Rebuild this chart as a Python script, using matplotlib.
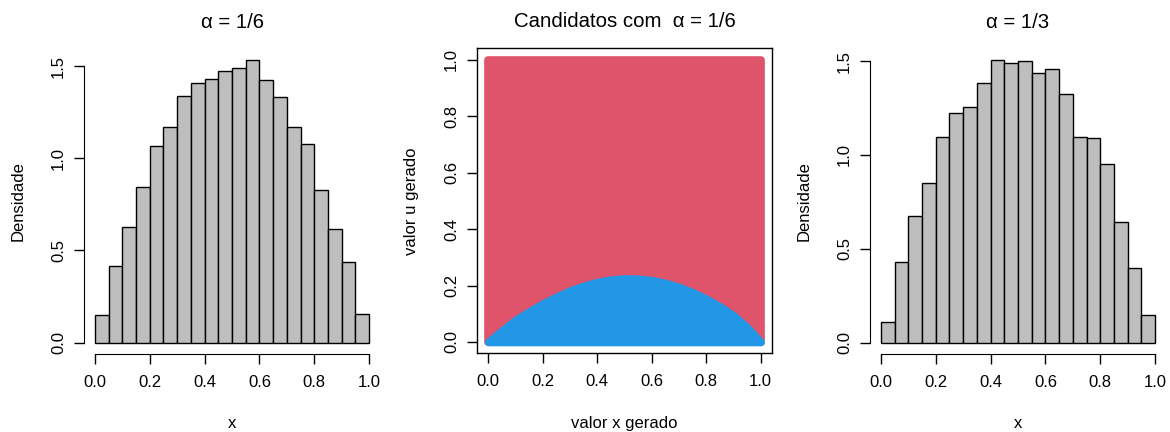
import numpy as np
import matplotlib.pyplot as plt

plt.rcParams['font.family'] = ['Liberation Sans', 'DejaVu Sans']
plt.rcParams['font.size'] = 12

# histogram bins (width 0.05 on [0, 1])
bin_left = np.arange(20) * 0.05
dens_a16 = [0.148, 0.418, 0.627, 0.844, 1.065, 1.170, 1.339, 1.410, 1.431, 1.475,
            1.491, 1.534, 1.426, 1.334, 1.172, 1.080, 0.829, 0.618, 0.440, 0.153]
dens_a13 = [0.108, 0.430, 0.675, 0.852, 1.095, 1.223, 1.255, 1.383, 1.507, 1.489,
            1.500, 1.434, 1.457, 1.324, 1.094, 1.090, 0.953, 0.643, 0.398, 0.147]

# accepted region boundary for the candidates (x, u)
x_bound = [0.00, 0.05, 0.10, 0.15, 0.20, 0.25, 0.30, 0.35, 0.40, 0.45, 0.50,
           0.55, 0.60, 0.65, 0.70, 0.75, 0.80, 0.85, 0.90, 0.95, 1.00]
u_bound = [0.000, 0.040, 0.078, 0.108, 0.136, 0.160, 0.182, 0.199, 0.212, 0.221, 0.225,
           0.224, 0.219, 0.209, 0.195, 0.176, 0.153, 0.126, 0.094, 0.052, 0.000]

RED = '#DF536B'
BLUE = '#2297E6'
GRAY = '#BEBEBE'

xticks = [0.0, 0.2, 0.4, 0.6, 0.8, 1.0]
xtick_labels = ['0.0', '0.2', '0.4', '0.6', '0.8', '1.0']

fig = plt.figure(figsize=(11.7, 4.32), dpi=100)


def style_axis(ax):
    ax.tick_params(axis='both', direction='out', length=7, width=1.0, colors='black')
    ax.tick_params(axis='x', pad=8)
    ax.tick_params(axis='y', pad=6)
    ax.set_xticks(xticks)
    ax.set_xticklabels(xtick_labels)


def histogram(ax, dens, title):
    ax.bar(bin_left, dens, width=0.05, align='edge', color=GRAY,
           edgecolor='black', linewidth=1.0)
    ymax = max(dens)
    ax.set_xlim(-0.04, 1.04)
    ax.set_ylim(-0.04 * ymax, 1.04 * ymax)
    for s in ['top', 'right']:
        ax.spines[s].set_visible(False)
    ax.spines['left'].set_bounds(0, 1.5)
    ax.spines['bottom'].set_bounds(0, 1)
    style_axis(ax)
    ax.set_yticks([0, 0.5, 1.0, 1.5])
    ax.set_yticklabels(['0.0', '0.5', '1.0', '1.5'], rotation=90, va='center')
    ax.set_xlabel('x', labelpad=19)
    ax.set_ylabel('Densidade', labelpad=18)
    ax.set_title(title, fontsize=14.7, pad=15)


ax1 = fig.add_axes([0.0718, 0.1806, 0.2530, 0.7072])
histogram(ax1, dens_a16, 'α = 1/6')

ax3 = fig.add_axes([0.7436, 0.1806, 0.2530, 0.7072])
histogram(ax3, dens_a13, 'α = 1/3')

# candidates: rejected (red) over the unit square, accepted (blue) under the boundary
ax2 = fig.add_axes([0.4079, 0.1822, 0.2516, 0.7060])
ax2.fill_between([0, 1], [0, 0], [1, 1], color=RED, edgecolor=RED,
                 linewidth=5.5, joinstyle='round')
ax2.fill_between(x_bound, 0, u_bound, color=BLUE, edgecolor=BLUE,
                 linewidth=5.5, joinstyle='round')
ax2.set_xlim(-0.04, 1.04)
ax2.set_ylim(-0.04, 1.04)
for s in ax2.spines.values():
    s.set_linewidth(1.0)
style_axis(ax2)
ax2.set_yticks(xticks)
ax2.set_yticklabels(xtick_labels, rotation=90, va='center')
ax2.set_xlabel('valor x gerado', labelpad=19)
ax2.set_ylabel('valor u gerado', labelpad=18)
ax2.set_title('Candidatos com  α = 1/6', fontsize=14.7, pad=15)

fig.savefig('out.png', dpi=100)
